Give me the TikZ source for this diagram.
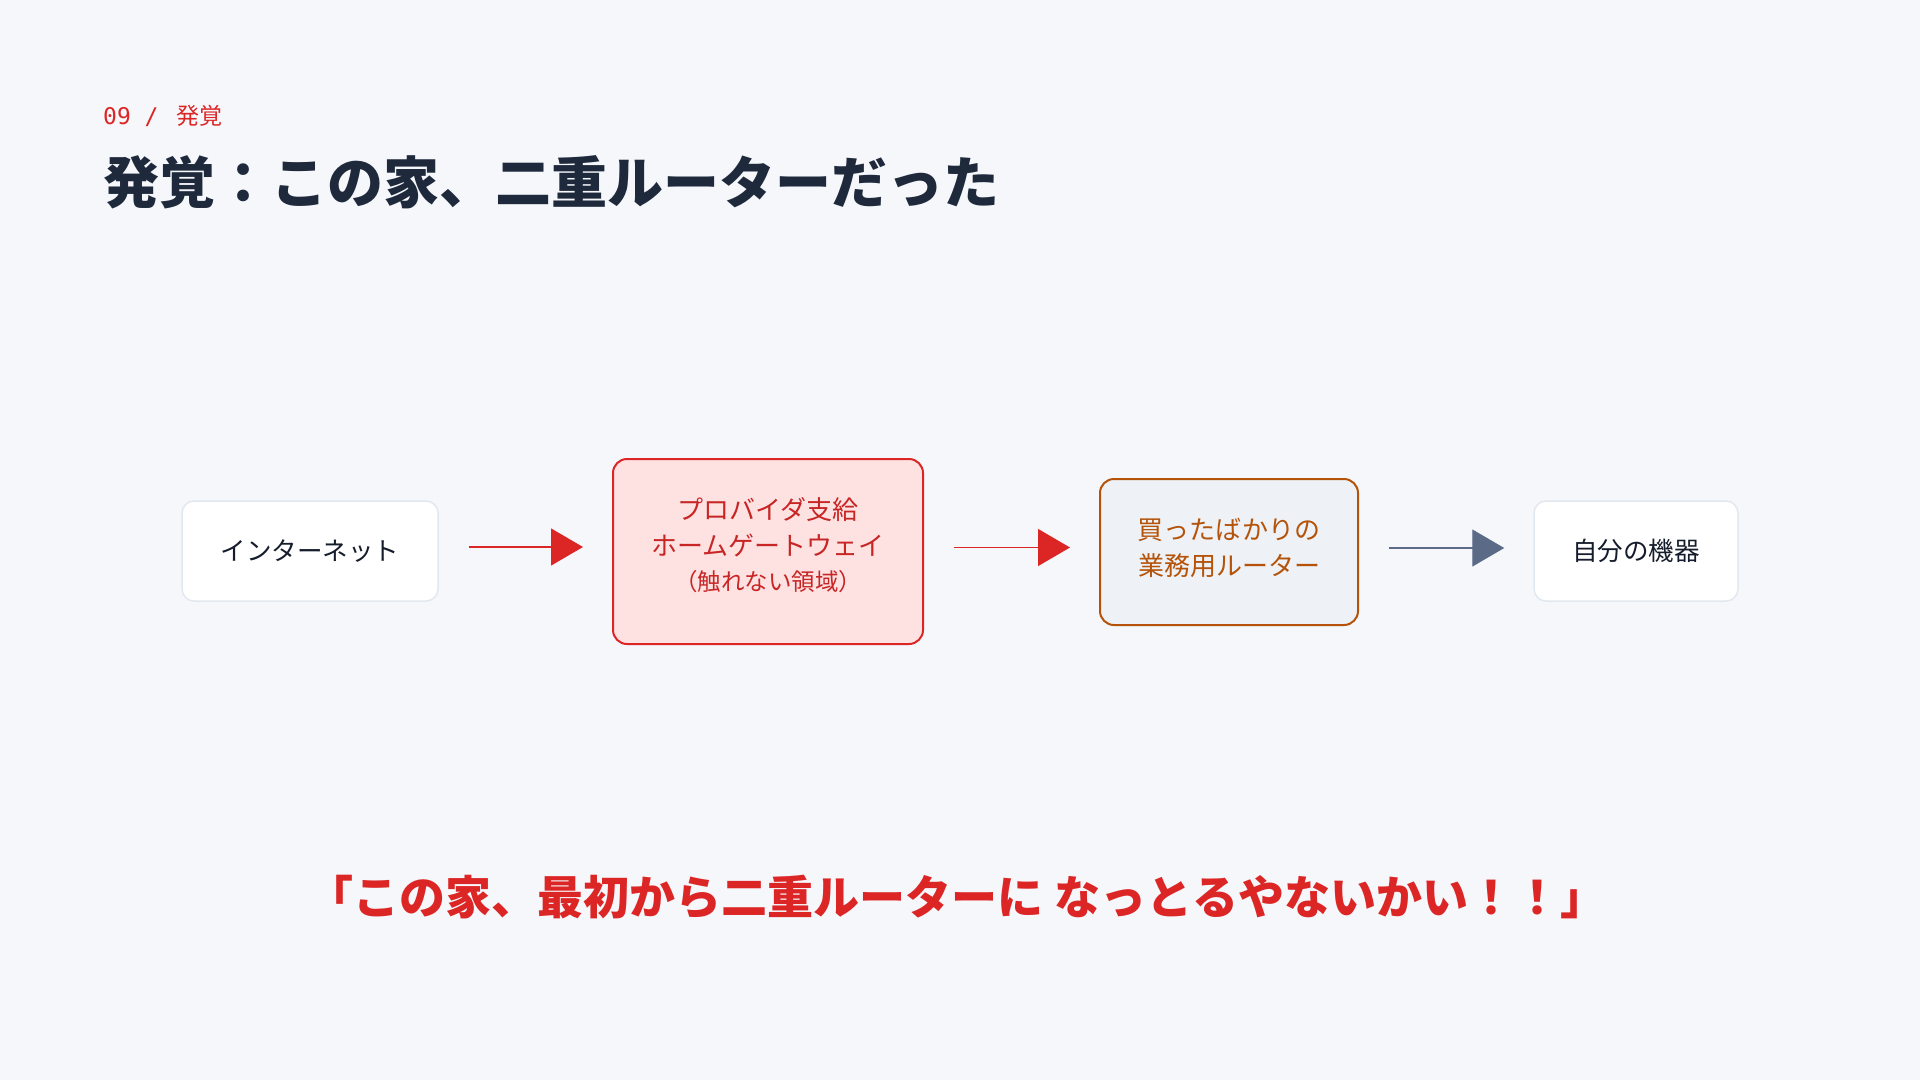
\documentclass[tikz,border=0pt]{standalone}
\usepackage{fontspec}
\setmainfont{Noto Sans CJK JP}
\newfontfamily\monofnt{DejaVu Sans Mono}
\usetikzlibrary{arrows.meta}
\definecolor{bgc}{HTML}{F5F7FB}
\definecolor{ink}{HTML}{1E293B}
\definecolor{nodeink}{HTML}{151C2B}
\definecolor{redc}{HTML}{DC2626}
\definecolor{redtxt}{HTML}{C82525}
\definecolor{redfill}{HTML}{FEE2E2}
\definecolor{graybd}{HTML}{E2E8F0}
\definecolor{brownc}{HTML}{B45309}
\definecolor{slatefill}{HTML}{EEF2F7}
\definecolor{slatec}{HTML}{5B6B87}
\tikzset{
  box/.style={rectangle, rounded corners=12pt, line width=1.5pt, inner sep=0pt, align=center, font=\fontsize{25.5}{35}\selectfont},
  boxtext/.style={inner sep=0pt, align=center, font=\fontsize{26}{35.5}\selectfont},
  plainbox/.style={box, draw=graybd, fill=white, text=nodeink},
  gwbox/.style={box, draw=redc, fill=redfill, line width=2pt, rounded corners=14pt},
  rtbox/.style={box, draw=brownc, fill=slatefill, line width=2pt, rounded corners=14pt},
  conn/.style={line width=1.4pt, shorten <=30pt, shorten >=29pt, -{Triangle[length=32pt,width=37pt]}}
}
\begin{document}
\begin{tikzpicture}[x=1pt,y=-1pt]
\fill[bgc] (0,0) rectangle (1920,1080);
\useasboundingbox (0,0) rectangle (1920,1080);

\node[anchor=base west, inner sep=0pt, text=redc, font=\fontsize{23}{26}\selectfont] (lbl) at (103,124) {{\monofnt 09 / }\,発覚};
\node[anchor=base west, inner sep=0pt, text=ink, font=\fontsize{56}{60}\selectfont\bfseries] (title) at (103,203) {発覚：この家、二重ルーターだった};

\node[plainbox, minimum width=256pt, minimum height=100pt] (net) at (310,551) {インターネット};
\node[gwbox, minimum width=310pt, minimum height=185pt] (gw) at (768,551.5) {};
\node[boxtext, text=redtxt] (gwt) at ([yshift=6pt]gw.center) {プロバイダ支給\\ホームゲートウェイ\\{\fontsize{23.5}{32}\selectfont （触れない領域）}};
\node[rtbox, minimum width=258pt, minimum height=146pt] (rt) at (1229,552) {};
\node[boxtext, text=brownc] (rtt) at ([yshift=4pt]rt.center) {買ったばかりの\\業務用ルーター};
\node[plainbox, minimum width=204pt, minimum height=100pt] (dev) at (1636,551) {自分の機器};

\draw[conn, redc] ([yshift=4pt]net.east) -- ([yshift=4pt]net.east -| gw.west);
\draw[conn, redc] ([yshift=4pt]gw.east) -- ([yshift=4pt]gw.east -| rt.west);
\draw[conn, slatec] ([yshift=4pt]rt.east) -- ([yshift=4pt]rt.east -| dev.west);

\node[anchor=base, inner sep=0pt, text=redc, font=\fontsize{46}{52}\selectfont\bfseries] (quote) at (957,914) {「この家、最初から二重ルーターに なっとるやないかい！！」};
\end{tikzpicture}
\end{document}
